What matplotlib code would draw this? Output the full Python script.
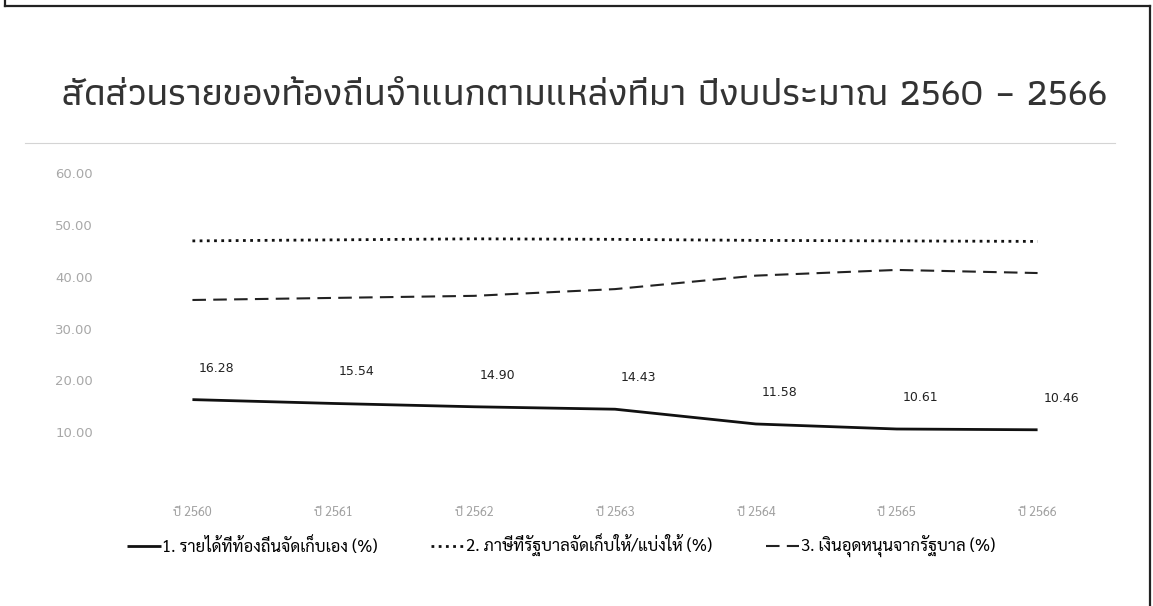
import matplotlib
matplotlib.use("Agg")
import matplotlib.pyplot as plt
from matplotlib.lines import Line2D

years = ["ปี 2560", "ปี 2561", "ปี 2562", "ปี 2563", "ปี 2564", "ปี 2565", "ปี 2566"]
own_revenue = [16.28, 15.54, 14.90, 14.43, 11.58, 10.61, 10.46]
shared_tax = [46.9, 47.1, 47.3, 47.2, 47.0, 46.9, 46.8]
subsidy = [35.5, 35.9, 36.3, 37.6, 40.2, 41.3, 40.7]
series_names = ["1. รายได้ที่ท้องถิ่นจัดเก็บเอง (%)",
                "2. ภาษีที่รัฐบาลจัดเก็บให้/แบ่งให้ (%)",
                "3. เงินอุดหนุนจากรัฐบาล (%)"]
title = "สัดส่วนรายของท้องถิ่นจำแนกตามแหล่งที่มา ปีงบประมาณ 2560 – 2566"
yticks = [10, 20, 30, 40, 50, 60]

W, H = 1153, 606
fig = plt.figure(figsize=(W / 100, H / 100), dpi=100)

# frame around the figure
for xs, ys in [([5, 5], [0, 6]), ([5, 1150], [6, 6]), ([1150, 1150], [6, 606])]:
    fig.add_artist(Line2D([x / W for x in xs], [1 - y / H for y in ys],
                          color="#222222", lw=1.6, transform=fig.transFigure))

t = fig.text(62 / W, 1 - 95 / H, title, fontsize=31, color="#333333",
             family=["Athiti", "DejaVu Sans"], weight="medium",
             va="center", ha="left")
fig.canvas.draw()
bb = t.get_window_extent()
t.set_fontsize(31 * (1043 / bb.width))

fig.add_artist(Line2D([25 / W, 1115 / W], [1 - 143 / H, 1 - 143 / H],
                      color="#d4d4d4", lw=0.8, transform=fig.transFigure))

ax = fig.add_axes([122 / W, 1 - 484 / H, 986 / W, 311 / H])
x = list(range(len(years)))
l1, = ax.plot(x, own_revenue, color="#111111", lw=2.0, solid_capstyle="butt")
l2, = ax.plot(x, shared_tax, color="#111111", lw=2.0, linestyle=(0, (1, 1.6)))
l3, = ax.plot(x, subsidy, color="#222222", lw=1.5, linestyle=(0, (6.5, 3.5)))

for xi, v in zip(x, own_revenue):
    ax.annotate(f"{v:.2f}", (xi, v), xytext=(17, 18), textcoords="offset points",
                ha="center", va="bottom", fontsize=9, color="#222222",
                family=["Tahoma", "DejaVu Sans"])

ax.set_xlim(-0.5, len(years) - 0.5)
ax.set_ylim(0, 60)
ax.set_yticks(yticks)
ax.set_yticklabels([f"{t:.2f}" for t in yticks], color="#a8a8a8", fontsize=9.5,
                   family=["DejaVu Sans"])
ax.set_xticks(x)
ax.set_xticklabels(years, color="#a0a0a0", fontsize=9,
                   family=["Sarabun", "DejaVu Sans"])
ax.tick_params(axis="both", length=0)
ax.tick_params(axis="y", pad=21)
ax.tick_params(axis="x", pad=16)
for s in ax.spines.values():
    s.set_visible(False)

fig.legend([l1, l2, l3], series_names, loc="center", ncol=3,
           bbox_to_anchor=(561 / W, 1 - 546 / H), frameon=False,
           prop={"family": ["Sarabun", "DejaVu Sans"], "size": 12},
           handlelength=2.0, handletextpad=0.1, columnspacing=3.2)

fig.savefig("out.png", dpi=100, facecolor="white")
